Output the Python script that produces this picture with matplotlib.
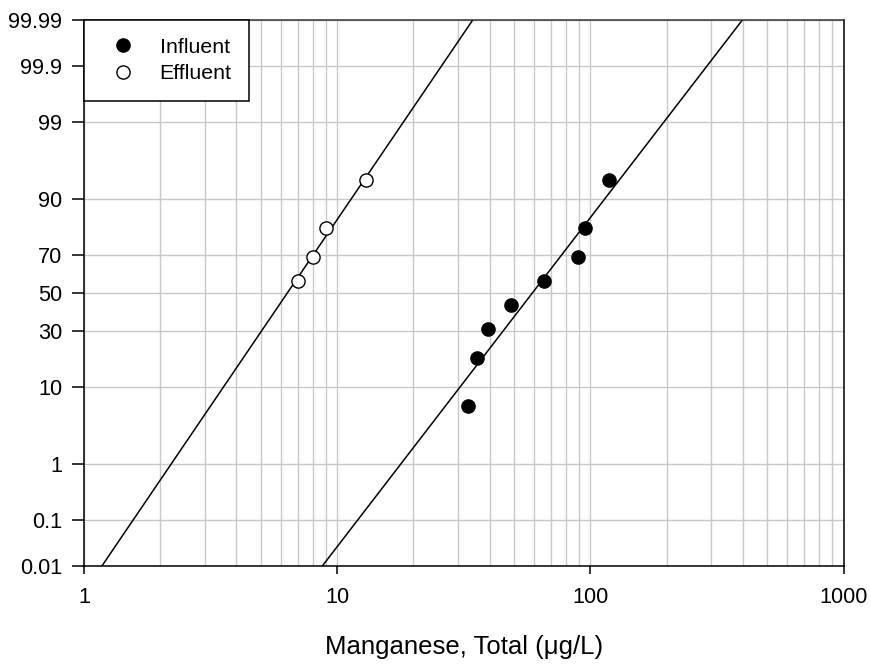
import numpy as np
import matplotlib
matplotlib.use("Agg")
import matplotlib.pyplot as plt
from matplotlib.ticker import FixedLocator, NullLocator, LogLocator, NullFormatter
from statistics import NormalDist

plt.rcParams['font.family'] = ['Liberation Sans', 'DejaVu Sans']

# ---- data ----
influent_mn = [33, 35.6, 39.5, 48.5, 65.5, 89, 95, 118]           # ug/L
influent_pct = [6.25, 18.75, 31.25, 43.75, 56.25, 68.75, 81.25, 93.75]
effluent_mn = [7, 8, 9, 13]                                       # ug/L (detected values)
effluent_pct = [56.25, 68.75, 81.25, 93.75]

y_ticks = [0.01, 0.1, 1, 10, 30, 50, 70, 90, 99, 99.9, 99.99]
y_ticklabels = ['0.01', '0.1', '1', '10', '30', '50', '70', '90', '99', '99.9', '99.99']
x_ticks = [1, 10, 100, 1000]
x_ticklabels = ['1', '10', '100', '1000']

# ---- normal probability scale ----
_nd = NormalDist()
_ppf = np.vectorize(lambda q: _nd.inv_cdf(q) if np.isfinite(q) else np.nan, otypes=[float])
_cdf = np.vectorize(lambda z: _nd.cdf(z) if np.isfinite(z) else np.nan, otypes=[float])


def prob_forward(p):
    p = np.asarray(p, dtype=float) / 100.0
    p = np.where(np.isfinite(p), np.clip(p, 1e-9, 1 - 1e-9), np.nan)
    return _ppf(p)


def prob_inverse(z):
    z = np.asarray(z, dtype=float)
    return _cdf(z) * 100.0


fig = plt.figure(figsize=(8.71, 6.64), dpi=100)
ax = fig.add_axes([84 / 871, (664 - 566) / 664, (843.5 - 84) / 871, (566 - 20) / 664])

ax.set_xscale('log')
ax.set_yscale('function', functions=(prob_forward, prob_inverse))
ax.set_xlim(1, 1000)
ax.set_ylim(0.01, 99.99)


def fit_line(xs, ps):
    lx = np.log10(np.asarray(xs, float))
    z = prob_forward(ps)
    a, b = np.polyfit(lx, z, 1)          # z = a*log10(x) + b
    zend = prob_forward([0.01, 99.99])
    xend = 10 ** ((zend - b) / a)
    return xend, [0.01, 99.99]


xi, pi = fit_line(influent_mn, influent_pct)
xe, pe = fit_line(effluent_mn, effluent_pct)
ax.plot(xi, pi, color='black', lw=1.1, zorder=2)
ax.plot(xe, pe, color='black', lw=1.1, zorder=2)

ax.plot(influent_mn, influent_pct, 'o', ms=9.5, color='black', mec='black',
        label='Influent', zorder=3)
ax.plot(effluent_mn, effluent_pct, 'o', ms=9.5, mfc='white', mec='black', mew=1.0,
        label='Effluent', zorder=3)

# ticks
ax.yaxis.set_major_locator(FixedLocator(y_ticks))
ax.set_yticklabels(y_ticklabels)
ax.yaxis.set_minor_locator(NullLocator())
ax.xaxis.set_major_locator(FixedLocator(x_ticks))
ax.set_xticklabels(x_ticklabels)
ax.xaxis.set_minor_locator(LogLocator(base=10, subs=np.arange(2, 10)))
ax.xaxis.set_minor_formatter(NullFormatter())

ax.tick_params(axis='y', which='major', direction='out', length=8.6, width=1.1,
               labelsize=15.6, pad=7, left=True, right=False)
ax.tick_params(axis='x', which='major', direction='out', length=5.8, width=1.1,
               labelsize=15.6, pad=9, bottom=True, top=False)
ax.tick_params(axis='x', which='minor', length=0)

ax.set_axisbelow(True)
ax.grid(True, which='major', axis='both', color='#c8c8c8', lw=1.0)
ax.grid(True, which='minor', axis='x', color='#c8c8c8', lw=1.0)

for s in ax.spines.values():
    s.set_color('black')
    s.set_linewidth(1.1)
ax.spines['top'].set_color('#333333')

ax.set_xlabel('Manganese, Total (\u03bcg/L)', fontsize=18.5, labelpad=20)

leg = ax.legend(loc='upper left', bbox_to_anchor=(0, 1), borderaxespad=0,
                fontsize=15.4, frameon=True, fancybox=False, framealpha=1,
                edgecolor='black', borderpad=0.83, labelspacing=0.35,
                handlelength=1.98, handletextpad=0.72, numpoints=1)
leg.get_frame().set_linewidth(1.1)

fig.savefig('out.png', dpi=100)
